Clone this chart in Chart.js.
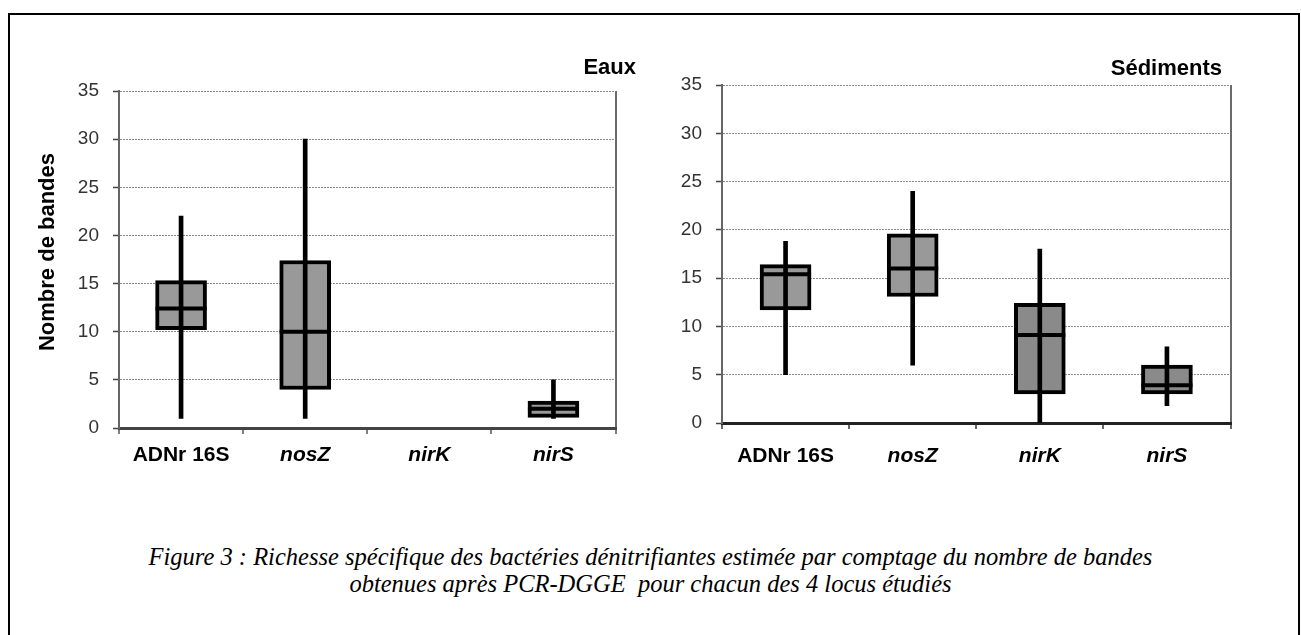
<!DOCTYPE html>
<html>
<head>
<meta charset="utf-8">
<script src="https://cdn.jsdelivr.net/npm/chart.js@4.4.0/dist/chart.umd.min.js"></script>
<style>
  html, body { margin: 0; padding: 0; background: #fff; }
  body { width: 1301px; height: 635px; overflow: hidden; position: relative; font-family: "Liberation Sans", Arial, sans-serif; }
  .frame { position: absolute; left: 8px; top: 13px; width: 1288px; height: 700px; border: 2px solid #000; }
  .panel { position: absolute; }
  .ptitle { position: absolute; font-weight: bold; font-size: 22px; line-height: 26px; text-align: right; color: #000; }
  .ytitle { position: absolute; width: 300px; height: 26px; line-height: 26px; text-align: center; font-weight: bold; font-size: 22px; transform: rotate(-90deg); }
  .caption { position: absolute; left: 0; top: 543px; width: 1301px; text-align: center; font-family: "Liberation Serif", "Times New Roman", serif; font-style: italic; font-size: 24.5px; line-height: 27px; }
</style>
</head>
<body>
<div class="frame"></div>

<div class="panel" style="left:20px;top:30px"><canvas id="eaux" width="625" height="470"></canvas></div>
<div class="panel" style="left:660px;top:30px"><canvas id="sed" width="600" height="470"></canvas></div>

<div class="ptitle" style="left:500px;top:54px;width:136px">Eaux</div>
<div class="ptitle" style="left:1022px;top:55px;width:200px">Sédiments</div>
<div class="ytitle" style="left:-103px;top:239px">Nombre de bandes</div>

<div class="caption">Figure 3 : Richesse spécifique des bactéries dénitrifiantes estimée par comptage du nombre de bandes<br>obtenues après PCR-DGGE &nbsp;pour chacun des 4 locus étudiés</div>

<script>
// Categories and y ticks
const categories = ['ADNr 16S', 'nosZ', 'nirK', 'nirS'];
const yTickValues = [0, 5, 10, 15, 20, 25, 30, 35];

// Eaux (nirK: no data)
const eauxMin    = [1,    1,    null, 1];
const eauxQ1     = [10.2, 4,    null, 1.1];
const eauxMedian = [12.4, 10,   null, 2];
const eauxQ3     = [15.3, 17.4, null, 2.8];
const eauxMax    = [22,   30,   null, 5];

// Sédiments
const sedMin    = [5,    6,    0,    1.8];
const sedQ1     = [11.7, 13.1, 3,    3];
const sedMedian = [15.4, 16,   9.1,  3.9];
const sedQ3     = [16.4, 19.6, 12.4, 6];
const sedMax    = [18.8, 24,   18,   7.9];

const range = (lo, hi) => lo.map((v, i) => (v == null ? null : [v, hi[i]]));

// One box plot: box = floating bar, whisker = thin floating bar, median = 'line' point.
function boxChart(canvas, s, look) {
  return new Chart(canvas, {
    type: 'bar',
    data: {
      labels: categories,
      datasets: [
        { type: 'line', data: s.median, showLine: false, pointStyle: 'line', pointRadius: 25.5,
          pointBorderWidth: 4, pointBorderColor: '#000', order: 1 },
        { data: range(s.min, s.max), backgroundColor: '#000', borderWidth: 0, barThickness: 4, grouped: false, order: 2 },
        { data: range(s.q1, s.q3), backgroundColor: look.fill, borderColor: '#000', borderWidth: 4,
          borderSkipped: false, barThickness: 51, grouped: false, order: 3 },
      ],
    },
    options: {
      responsive: false, animation: false, events: [],
      layout: { padding: { top: look.padTop, right: look.padRight, left: 0, bottom: 0 } },
      plugins: { legend: { display: false }, tooltip: { enabled: false } },
      scales: {
        x: {
          offset: true,
          grid: { offset: true, color: (c) => (c.type === 'scale' ? '#6a6a6a' : 'transparent'), lineWidth: 2,
                  tickLength: 6, tickWidth: 1.5, tickColor: look.xTick },
          border: { color: look.xAxis, width: 3 },
          ticks: { padding: look.xPad, color: '#000', maxRotation: 0, autoSkip: false,
                   font: (c) => ({ size: 21, weight: 'bold', style: c.index === 0 ? 'normal' : 'italic' }) },
          afterFit: (sc) => { sc.height = look.xHeight; },
        },
        y: {
          min: yTickValues[0], max: yTickValues[yTickValues.length - 1],
          afterBuildTicks: (sc) => { sc.ticks = yTickValues.map((v) => ({ value: v })); },
          grid: { color: (c) => (c.tick && c.tick.value === 0 ? 'transparent' : '#8a8a8a'), lineWidth: 1,
                  tickLength: 6, tickWidth: 1.5, tickColor: '#444' },
          border: { color: '#666', width: 2, dash: [2, 1] },
          ticks: { padding: 14, color: '#333', font: { size: 19 } },
          afterFit: (sc) => { sc.width = look.yWidth; },
        },
      },
    },
  });
}

Chart.defaults.font.family = '"Liberation Sans", Arial, sans-serif';

boxChart(document.getElementById('eaux'),
  { min: eauxMin, q1: eauxQ1, median: eauxMedian, q3: eauxQ3, max: eauxMax },
  { fill: '#999999', padTop: 61, padRight: 15, yWidth: 99, xHeight: 72, xPad: 9, xAxis: '#444', xTick: '#555' });

boxChart(document.getElementById('sed'),
  { min: sedMin, q1: sedQ1, median: sedMedian, q3: sedQ3, max: sedMax },
  { fill: ['#999999', '#999999', '#8a8a8a', '#8a8a8a'], padTop: 55, padRight: 28, yWidth: 62, xHeight: 77, xPad: 15, xAxis: '#222', xTick: '#333' });
</script>
</body>
</html>
